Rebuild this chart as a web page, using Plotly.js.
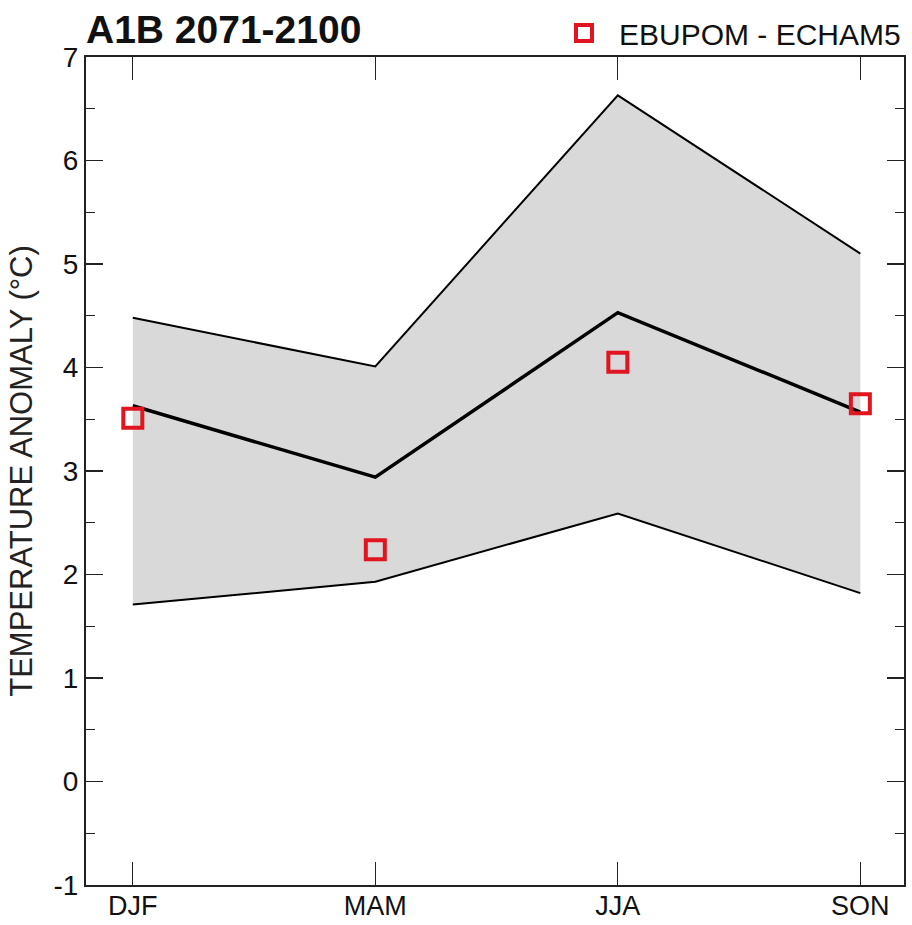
<!DOCTYPE html>
<html>
<head>
<meta charset="utf-8">
<script src="https://cdn.plot.ly/plotly-3.0.1.min.js"></script>
<style>html,body{margin:0;padding:0;background:#fff;}#chart{width:912px;height:925px;}</style>
</head>
<body>
<div id="chart"></div>
<script>
var seasons = ["DJF", "MAM", "JJA", "SON"];
var xIndex = [0, 1, 2, 3];
var upperBound = [4.48, 4.01, 6.63, 5.10];
var lowerBound = [1.71, 1.93, 2.59, 1.82];
var ensembleMean = [3.63, 2.94, 4.53, 3.57];
var ebupom = [3.51, 2.24, 4.05, 3.65];
var legendName = "EBUPOM - ECHAM5";
var chartTitle = "A1B 2071-2100";
var yTitle = "TEMPERATURE ANOMALY (\u00b0C)";
var yTicks = [-1, 0, 1, 2, 3, 4, 5, 6, 7];
var yTickText = ["-1", "0", "1", "2", "3", "4", "5", "6", "7"];

var font = "Liberation Sans, Arial, Helvetica, sans-serif";

var traces = [
  {x: xIndex, y: lowerBound, mode: "lines", line: {color: "#000", width: 2}, showlegend: false, hoverinfo: "skip"},
  {x: xIndex, y: upperBound, mode: "lines", fill: "tonexty", fillcolor: "#d9d9d9", line: {color: "#000", width: 2}, showlegend: false, hoverinfo: "skip"},
  {x: xIndex, y: ensembleMean, mode: "lines", line: {color: "#000", width: 3.5}, showlegend: false},
  {x: xIndex, y: ebupom, mode: "markers", name: legendName,
   marker: {symbol: "square-open", size: 19, color: "#e01520", line: {width: 4, color: "#e01520"}}, cliponaxis: false}
];

var layout = {
  width: 912, height: 925,
  margin: {l: 86, r: 6, t: 57, b: 40, pad: 0},
  paper_bgcolor: "#fff", plot_bgcolor: "#fff",
  font: {family: font, color: "#111", size: 28},
  title: {text: "<b>" + chartTitle + "</b>", font: {family: font, size: 39, color: "#111"},
          xref: "paper", x: 0, xanchor: "left", yref: "container", y: 1 - 29/925, yanchor: "middle"},
  showlegend: true,
  legend: {x: 0.566, xanchor: "left", y: 1 + 24/828, yanchor: "middle", orientation: "h",
           font: {family: font, size: 30, color: "#111"}, bgcolor: "rgba(0,0,0,0)", itemwidth: 60},
  xaxis: {
    range: [-0.193, 3.18], tickmode: "array", tickvals: xIndex, ticktext: seasons,
    ticks: "inside", ticklen: 23, tickwidth: 1.3, tickcolor: "#222",
    showline: true, linecolor: "#222", linewidth: 2, mirror: "ticks",
    showgrid: false, zeroline: false, tickfont: {size: 27, color: "#111"}, ticklabelstandoff: -4
  },
  yaxis: {
    range: [-1, 7], tickmode: "array", tickvals: yTicks, ticktext: yTickText,
    ticks: "inside", ticklen: 17, tickwidth: 1.3, tickcolor: "#222",
    minor: {dtick: 0.5, ticks: "inside", ticklen: 9, tickwidth: 1.3, tickcolor: "#222", showgrid: false},
    showline: true, linecolor: "#222", linewidth: 2, mirror: "ticks",
    showgrid: false, zeroline: false, tickfont: {size: 28, color: "#111"},
    title: {text: yTitle, font: {size: 31, color: "#222"}, standoff: 12}
  }
};

Plotly.newPlot("chart", traces, layout, {displayModeBar: false, staticPlot: true});
</script>
</body>
</html>
